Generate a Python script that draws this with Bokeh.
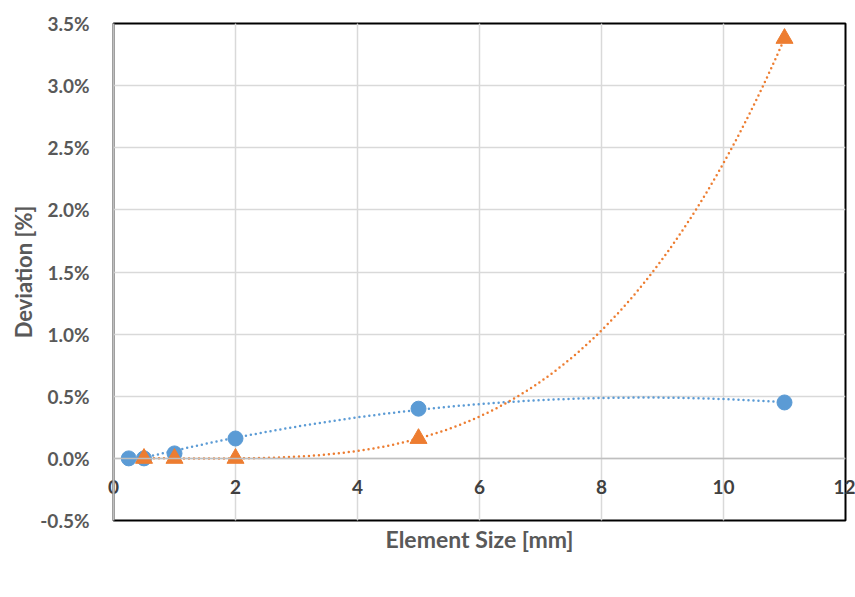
import numpy as np
from bokeh.plotting import figure
from bokeh.models import (Range1d, NumeralTickFormatter, FixedTicker, LinearAxis,
                          Legend, LegendItem, Grid)
from bokeh.embed import file_html
from bokeh.resources import INLINE

# ---- data ----
blue_x = [0.25, 0.5, 1, 2, 5, 11]
blue_y = [0.0000, 0.0000, 0.0004, 0.0016, 0.0040, 0.0045]
orange_x = [0.5, 1, 2, 5, 11]
orange_y = [0.0000, 0.0000, 0.0000, 0.0016, 0.0338]
blue_label = "R = 0 mm HEXA20"
orange_label = "R = 14 mm HEXA20"
x_ticks = [0, 2, 4, 6, 8, 10, 12]
y_ticks = [-0.005, 0.0, 0.005, 0.01, 0.015, 0.02, 0.025, 0.03, 0.035]
trend_degree_blue = 2
trend_degree_orange = 4

BLUE = "#5b9bd5"
ORANGE = "#ed7d31"
TXT = "#595959"
FONT = "Lato"

p = figure(frame_width=732, frame_height=497, output_backend="svg",
           toolbar_location=None,
           x_range=Range1d(0, 12), y_range=Range1d(-0.005, 0.035),
           x_axis_location=None,
           min_border_left=113, min_border_right=10, min_border_top=23,
           min_border_bottom=0)
p.background_fill_color = "white"
p.border_fill_color = "white"
p.outline_line_color = "black"
p.outline_line_width = 2

# y axis
ya = p.yaxis[0]
ya.ticker = FixedTicker(ticks=y_ticks)
ya.formatter = NumeralTickFormatter(format="0.0%")
ya.axis_line_color = "#bfbfbf"
ya.axis_line_width = 2
ya.major_tick_line_color = None
ya.minor_tick_line_color = None
ya.major_label_text_font = FONT
ya.major_label_text_font_style = "bold"
ya.major_label_text_font_size = "19px"
ya.major_label_text_color = TXT
ya.major_label_standoff = 18
ya.axis_label = "Deviation [%]"
ya.axis_label_text_font = FONT
ya.axis_label_text_font_style = "bold"
ya.axis_label_text_font_size = "22px"
ya.axis_label_text_color = TXT
ya.axis_label_standoff = 0

p.ygrid.ticker = FixedTicker(ticks=y_ticks)
p.ygrid.grid_line_color = "#d9d9d9"
p.ygrid.grid_line_width = 1.5

p.add_layout(Grid(dimension=0, ticker=FixedTicker(ticks=x_ticks),
                  grid_line_color="#d9d9d9", grid_line_width=1.5))

# 1) horizontal axis line at y = 0
xa = LinearAxis(fixed_location=0, ticker=FixedTicker(ticks=[]))
xa.axis_line_color = "#bfbfbf"
xa.axis_line_width = 1.5
xa.major_tick_line_color = None
xa.minor_tick_line_color = None
p.add_layout(xa, "below")

# 2) tick labels lifted up next to the zero line
xl = LinearAxis(ticker=FixedTicker(ticks=x_ticks))
xl.axis_line_color = None
xl.major_tick_line_color = None
xl.minor_tick_line_color = None
xl.major_label_text_font = FONT
xl.major_label_text_font_style = "bold"
xl.major_label_text_font_size = "19px"
xl.major_label_text_color = "#404040"
xl.major_label_standoff = -47
p.add_layout(xl, "below")

# 3) axis title
xt = LinearAxis(ticker=FixedTicker(ticks=[]), axis_label="Element Size [mm]")
xt.axis_line_color = None
xt.major_tick_line_color = None
xt.minor_tick_line_color = None
xt.axis_label_text_font = FONT
xt.axis_label_text_font_style = "bold"
xt.axis_label_text_font_size = "23px"
xt.axis_label_text_color = TXT
xt.axis_label_standoff = 4
p.add_layout(xt, "below")

# trendlines (polynomial fits of the data)
cb = np.polyfit(blue_x, blue_y, trend_degree_blue)
xb = np.linspace(min(blue_x), max(blue_x), 300)
p.line(xb, np.polyval(cb, xb), line_color=BLUE, line_width=2.5,
       line_dash="0 5", line_cap="round")
co = np.polyfit(orange_x, orange_y, trend_degree_orange)
xo = np.linspace(min(orange_x), max(orange_x), 300)
p.line(xo, np.polyval(co, xo), line_color=ORANGE, line_width=2.5,
       line_dash="0 5", line_cap="round")

rb = p.scatter(blue_x, blue_y, marker="circle", size=15, fill_color=BLUE,
               line_color=BLUE)
ro = p.scatter(orange_x, orange_y, marker="triangle", size=17, fill_color=ORANGE,
               line_color=ORANGE)

# 4) legend
legend = Legend(items=[LegendItem(label=blue_label, renderers=[rb]),
                       LegendItem(label=orange_label, renderers=[ro])],
                orientation="horizontal", location="top_center")
legend.label_text_font = FONT
legend.label_text_font_style = "bold"
legend.label_text_font_size = "22px"
legend.label_text_color = TXT
legend.border_line_color = None
legend.background_fill_alpha = 0
legend.spacing = 34
legend.glyph_width = 16
legend.label_standoff = 6
legend.margin = 8
legend.padding = 4
p.add_layout(legend, "below")

open("out.html", "w").write(file_html(p, INLINE))
